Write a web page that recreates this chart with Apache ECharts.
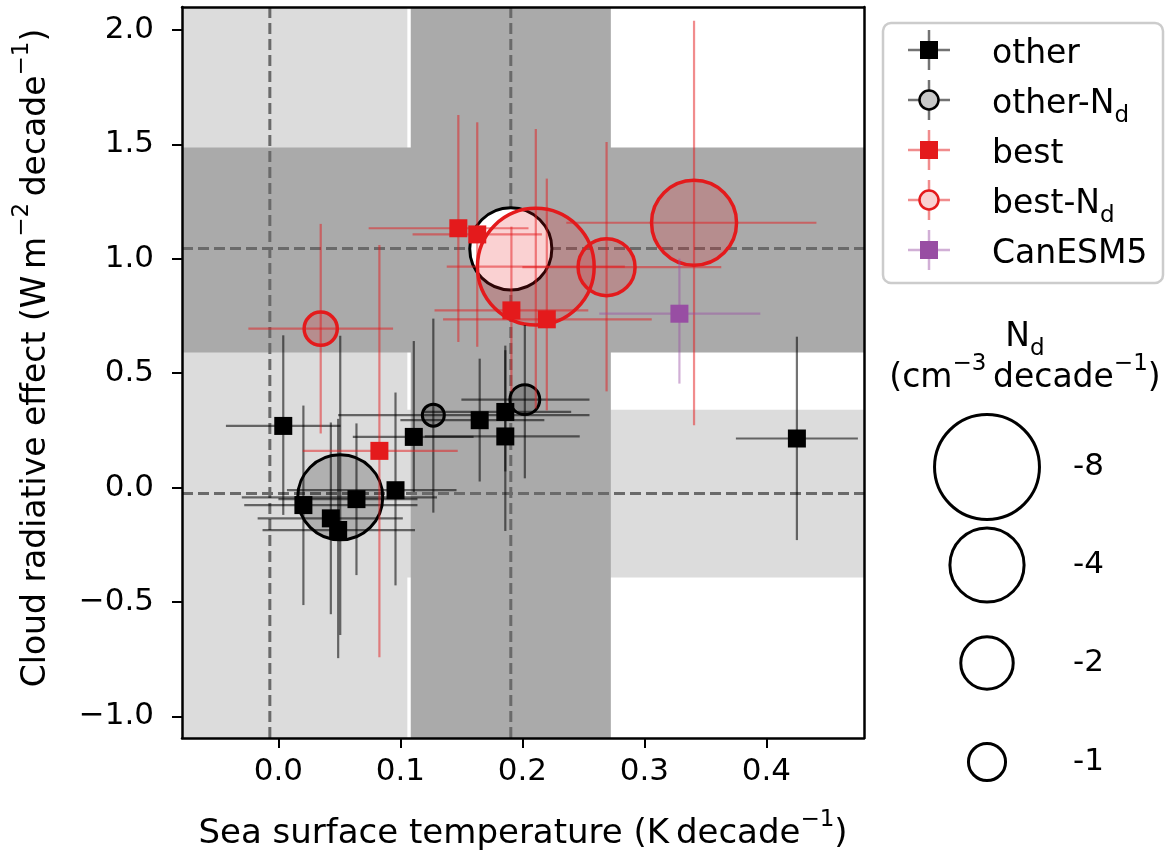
<!DOCTYPE html>
<html lang="en">
<head>
    <meta charset="UTF-8">
    <title>Cloud radiative effect vs SST trend</title>
    <script src="https://cdn.jsdelivr.net/npm/echarts@6/dist/echarts.min.js"></script>
    <style>
        html, body { margin: 0; padding: 0; background: #fff; }
        #chart { width: 1168px; height: 856px; }
    </style>
</head>
<body>
    <div id="chart"></div>

    <script type="text/javascript">
        // axes
        var xRange = [-0.079, 0.48];
        var yRange = [-1.095, 2.1];
        var xTicks = [0.0, 0.1, 0.2, 0.3, 0.4];
        var xTickLabels = ['0.0', '0.1', '0.2', '0.3', '0.4'];
        var yTicks = [-1.0, -0.5, 0.0, 0.5, 1.0, 1.5, 2.0];
        var yTickLabels = ['\u22121.0', '\u22120.5', '0.0', '0.5', '1.0', '1.5', '2.0'];

        // shaded ranges (observational spread)
        var lightSst = [-0.079, 0.1057];
        var lightCre = [-0.393, 0.34];
        var darkSst = [0.1085, 0.2725];
        var darkCre = [0.59, 1.486];

        // dashed reference lines
        var refSst = [-0.007, 0.1905];
        var refCre = [-0.026, 1.044];

        // rows: [sst, cre, sstLow, sstHigh, creLow, creHigh]
        var otherPts = [
            [0.004, 0.269, -0.043, 0.051, -0.12, 0.665],
            [0.111, 0.221, 0.061, 0.160, -0.02, 0.640],
            [0.165, 0.294, 0.100, 0.218, 0.026, 0.563],
            [0.186, 0.330, 0.118, 0.240, 0.07, 0.600],
            [0.186, 0.223, 0.120, 0.247, -0.19, 0.620],
            [0.425, 0.214, 0.375, 0.475, -0.23, 0.659],
            [0.0205, -0.077, -0.028, 0.114, -0.514, 0.358],
            [0.043, -0.135, -0.017, 0.102, -0.554, 0.284],
            [0.049, -0.186, -0.013, 0.112, -0.746, 0.300],
            [0.064, -0.051, 0.000, 0.114, -0.383, 0.280],
            [0.096, -0.012, 0.007, 0.146, -0.428, 0.415]
        ];
        var otherNdPts = [
            [0.0507, -0.043, -0.030, 0.130, -0.645, 0.663],
            [0.127, 0.316, 0.049, 0.255, -0.110, 0.738],
            [0.202, 0.384, 0.150, 0.255, 0.040, 0.710]
        ];
        var otherNd = [-5.25, -0.35, -0.65];

        var bestPts = [
            [0.1475, 1.133, 0.074, 0.205, 0.636, 1.628],
            [0.163, 1.106, 0.110, 0.216, 0.615, 1.596],
            [0.191, 0.774, 0.128, 0.254, 0.420, 1.140],
            [0.220, 0.735, 0.135, 0.306, 0.337, 1.350],
            [0.0828, 0.160, 0.020, 0.147, -0.742, 1.060]
        ];
        var bestNdPts = [
            [0.0347, 0.694, -0.0246, 0.094, 0.236, 1.152],
            [0.211, 0.965, 0.138, 0.284, 0.345, 1.567],
            [0.269, 0.963, 0.200, 0.363, 0.420, 1.510],
            [0.3407, 1.157, 0.236, 0.441, 0.272, 2.040]
        ];
        var bestNd = [-0.8, -9.9, -2.36, -5.25];

        var canesmPts = [
            [0.3287, 0.7595, 0.263, 0.395, 0.454, 1.000]
        ];

        var refPt = [0.1905, 1.043];
        var refNd = -4.9;

        // size key
        var keyNd = [-8, -4, -2, -1];

        var FONT = 'DejaVu Sans';
        var RED = '#e41a1c';
        var PURPLE = '#984ea3';

        // marker diameter grows with sqrt(|Nd|), i.e. area ~ |Nd|
        function ndToSize(nd) {
            return 37.1 * Math.sqrt(Math.abs(nd));
        }

        function withNd(rows, nds) {
            return rows.map(function (r, i) { return [r[0], r[1], nds[i]]; });
        }

        function bandSeries(rows, color) {
            return {
                type: 'custom',
                silent: true,
                clip: true,
                z: 1,
                data: rows,
                renderItem: function (params, api) {
                    var p0 = api.coord([api.value(0), api.value(2)]);
                    var p1 = api.coord([api.value(1), api.value(3)]);
                    return {
                        type: 'rect',
                        shape: {
                            x: Math.min(p0[0], p1[0]), y: Math.min(p0[1], p1[1]),
                            width: Math.abs(p1[0] - p0[0]), height: Math.abs(p1[1] - p0[1])
                        },
                        style: { fill: color }
                    };
                }
            };
        }

        function refLineSeries() {
            var rows = refSst.map(function (v) { return [v, v, yRange[0], yRange[1]]; })
                .concat(refCre.map(function (v) { return [xRange[0], xRange[1], v, v]; }));
            return {
                type: 'custom',
                silent: true,
                clip: true,
                z: 2,
                data: rows,
                renderItem: function (params, api) {
                    var a = api.coord([api.value(0), api.value(2)]);
                    var b = api.coord([api.value(1), api.value(3)]);
                    return {
                        type: 'line',
                        shape: { x1: a[0], y1: a[1], x2: b[0], y2: b[1] },
                        style: { stroke: '#6a6a6a', lineWidth: 3, lineDash: [11, 5] }
                    };
                }
            };
        }

        function errorBarSeries(rows, color) {
            return {
                type: 'custom',
                silent: true,
                clip: true,
                z: 4,
                data: rows,
                renderItem: function (params, api) {
                    var x = api.value(0), y = api.value(1);
                    var l = api.coord([api.value(2), y]);
                    var r = api.coord([api.value(3), y]);
                    var b = api.coord([x, api.value(4)]);
                    var t = api.coord([x, api.value(5)]);
                    return {
                        type: 'group',
                        children: [
                            { type: 'line', shape: { x1: l[0], y1: l[1], x2: r[0], y2: r[1] }, style: { stroke: color, lineWidth: 2.2 } },
                            { type: 'line', shape: { x1: b[0], y1: b[1], x2: t[0], y2: t[1] }, style: { stroke: color, lineWidth: 2.2 } }
                        ]
                    };
                }
            };
        }

        function circleSeries(data, fill, edge, edgeWidth) {
            return {
                type: 'scatter',
                silent: true,
                clip: true,
                z: 3,
                symbol: 'circle',
                symbolSize: function (val) { return ndToSize(val[2]); },
                data: data,
                itemStyle: { color: fill, borderColor: edge, borderWidth: edgeWidth, opacity: 1 }
            };
        }

        function squareSeries(rows, color) {
            return {
                type: 'scatter',
                silent: true,
                clip: true,
                z: 5,
                symbol: 'rect',
                symbolSize: 18,
                data: rows.map(function (r) { return [r[0], r[1]]; }),
                itemStyle: { color: color, opacity: 1 }
            };
        }

        var supStyle = { fontSize: 23, fontFamily: FONT, fill: '#000', color: '#000', verticalAlign: 'top', lineHeight: 23 };
        var subStyle = { fontSize: 23, fontFamily: FONT, fill: '#000', verticalAlign: 'bottom', lineHeight: 23 };

        // legend built from plain graphics
        var legendItems = [
            { text: 'other', color: '#000', fill: '#000', shape: 'rect', bar: 'rgba(0,0,0,0.55)' },
            { text: 'other-N{sub|d}', color: '#000', fill: '#c8c8c8', shape: 'circle', bar: 'rgba(0,0,0,0.55)' },
            { text: 'best', color: RED, fill: RED, shape: 'rect', bar: 'rgba(228,26,28,0.5)' },
            { text: 'best-N{sub|d}', color: RED, fill: '#f9d1d1', shape: 'circle', bar: 'rgba(228,26,28,0.5)' },
            { text: 'CanESM5', color: PURPLE, fill: PURPLE, shape: 'rect', bar: 'rgba(152,78,163,0.45)' }
        ];

        var graphics = [{
            type: 'rect',
            shape: { x: 883, y: 23, width: 280, height: 260, r: 8 },
            style: { fill: '#fff', stroke: '#cccccc', lineWidth: 2.5 },
            z: 10
        }];
        legendItems.forEach(function (it, i) {
            var cy = 50 + i * 50;
            var cx = 929;
            graphics.push({ type: 'line', z: 11, shape: { x1: cx - 21, y1: cy, x2: cx + 21, y2: cy }, style: { stroke: it.bar, lineWidth: 2.5 } });
            graphics.push({ type: 'line', z: 11, shape: { x1: cx, y1: cy - 20, x2: cx, y2: cy + 20 }, style: { stroke: it.bar, lineWidth: 2.5 } });
            if (it.shape === 'rect') {
                graphics.push({ type: 'rect', z: 12, shape: { x: cx - 9, y: cy - 9, width: 18, height: 18 }, style: { fill: it.fill } });
            } else {
                graphics.push({ type: 'circle', z: 12, shape: { cx: cx, cy: cy, r: 9.5 }, style: { fill: it.fill, stroke: it.color, lineWidth: 2.5 } });
            }
            graphics.push({
                type: 'text', z: 12, x: 992, y: cy + 4,
                style: {
                    text: it.text, font: '33px "' + FONT + '"', fill: '#000',
                    verticalAlign: 'middle', align: 'left', lineHeight: 48,
                    rich: { sub: subStyle }
                }
            });
        });

        // size key
        graphics.push({
            type: 'text', z: 12, x: 1025, y: 337,
            style: {
                text: 'N{sub|d}', font: '33px "' + FONT + '"', fill: '#000', align: 'center', verticalAlign: 'middle',
                lineHeight: 48, rich: { sub: subStyle }
            }
        });
        graphics.push({
            type: 'text', z: 12, x: 1025, y: 378,
            style: {
                text: '(cm{sup|\u22123}\u2009decade{sup|\u22121})', font: '33px "' + FONT + '"', fill: '#000',
                align: 'center', verticalAlign: 'middle', lineHeight: 50,
                rich: { sup: supStyle }
            }
        });
        var keyY = [467, 565, 663, 762];
        keyNd.forEach(function (nd, i) {
            graphics.push({ type: 'circle', z: 12, shape: { cx: 987, cy: keyY[i], r: ndToSize(nd) / 2 }, style: { fill: 'none', stroke: '#000', lineWidth: 3 } });
            graphics.push({
                type: 'text', z: 12, x: 1073, y: keyY[i],
                style: { text: '-' + Math.abs(nd), font: '31px "' + FONT + '"', fill: '#000', align: 'left', verticalAlign: 'middle' }
            });
        });

        // axis titles
        graphics.push({
            type: 'text', z: 12, x: 523, y: 834,
            style: {
                text: 'Sea surface temperature (K\u2009decade{sup|\u22121})', font: '34px "' + FONT + '"', fill: '#000',
                align: 'center', verticalAlign: 'middle', lineHeight: 50, rich: { sup: supStyle }
            }
        });
        graphics.push({
            type: 'text', z: 12, x: 36, y: 358, rotation: Math.PI / 2,
            style: {
                text: 'Cloud radiative effect (W\u2009m{sup|\u22122}\u2009decade{sup|\u22121})', font: '33px "' + FONT + '"', fill: '#000',
                align: 'center', verticalAlign: 'middle', lineHeight: 50, rich: { sup: supStyle }
            }
        });

        function lookup(ticks, labels) {
            return function (v) {
                for (var i = 0; i < ticks.length; i++) {
                    if (Math.abs(ticks[i] - v) < 1e-9) return labels[i];
                }
                return '';
            };
        }

        var chart = echarts.init(document.getElementById('chart'));

        var option = {
            animation: false,
            backgroundColor: '#fff',
            grid: { left: 182, top: 7, width: 682, height: 731 },
            xAxis: [{
                type: 'value', min: xRange[0], max: xRange[1], z: 10,
                axisLine: { show: true, onZero: false, lineStyle: { color: '#000', width: 2.5 } },
                axisTick: { show: true, customValues: xTicks, length: 10, lineStyle: { color: '#000', width: 2 } },
                axisLabel: { customValues: xTicks, formatter: lookup(xTicks, xTickLabels), fontSize: 31, fontFamily: FONT, color: '#000', margin: 18 },
                splitLine: { show: false }
            }, {
                type: 'value', min: xRange[0], max: xRange[1], position: 'top', z: 10,
                axisLine: { show: true, onZero: false, lineStyle: { color: '#000', width: 2.5 } },
                axisTick: { show: false }, axisLabel: { show: false }, splitLine: { show: false }
            }],
            yAxis: [{
                type: 'value', min: yRange[0], max: yRange[1], z: 10,
                axisLine: { show: true, onZero: false, lineStyle: { color: '#000', width: 2.5 } },
                axisTick: { show: true, customValues: yTicks, length: 10, lineStyle: { color: '#000', width: 2 } },
                axisLabel: { customValues: yTicks, formatter: lookup(yTicks, yTickLabels), fontSize: 31, fontFamily: FONT, color: '#000', margin: 28 },
                splitLine: { show: false }
            }, {
                type: 'value', min: yRange[0], max: yRange[1], position: 'right', z: 10,
                axisLine: { show: true, onZero: false, lineStyle: { color: '#000', width: 2.5 } },
                axisTick: { show: false }, axisLabel: { show: false }, splitLine: { show: false }
            }],
            graphic: graphics,
            series: [
                bandSeries([[lightSst[0], lightSst[1], yRange[0], yRange[1]], [xRange[0], xRange[1], lightCre[0], lightCre[1]]], '#dcdcdc'),
                bandSeries([[darkSst[0], darkSst[1], yRange[0], yRange[1]], [xRange[0], xRange[1], darkCre[0], darkCre[1]]], '#aaaaaa'),
                refLineSeries(),
                circleSeries([[refPt[0], refPt[1], refNd]], '#ffffff', '#000', 3),
                circleSeries(withNd(otherNdPts, otherNd), 'rgba(0,0,0,0.2)', '#000', 3),
                circleSeries(withNd(bestNdPts, bestNd), 'rgba(228,26,28,0.2)', RED, 3.5),
                errorBarSeries(otherPts.concat(otherNdPts), 'rgba(0,0,0,0.55)'),
                errorBarSeries(bestPts.concat(bestNdPts), 'rgba(228,26,28,0.5)'),
                errorBarSeries(canesmPts, 'rgba(152,78,163,0.45)'),
                squareSeries(otherPts, '#000'),
                squareSeries(bestPts, RED),
                squareSeries(canesmPts, PURPLE)
            ]
        };

        chart.setOption(option);
    </script>
</body>
</html>
